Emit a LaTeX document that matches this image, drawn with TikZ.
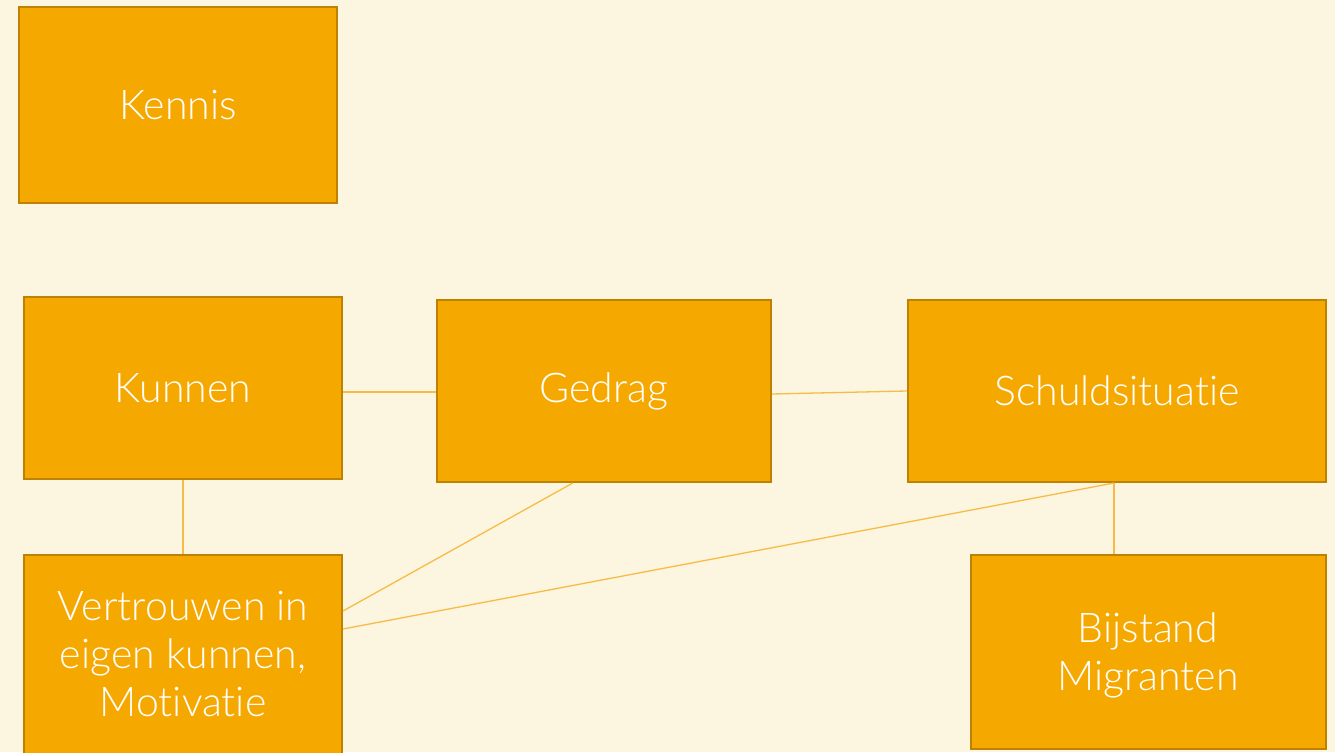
\documentclass[tikz,border=0pt]{standalone}
\usepackage{fontspec}
\setmainfont{Lato}[UprightFont = * Light, RawFeature = {-liga}]
\usetikzlibrary{calc}

\definecolor{bgcream}{HTML}{FCF5DF}
\definecolor{boxfill}{HTML}{F5A800}
\definecolor{boxline}{HTML}{BF8200}
\definecolor{linkline}{HTML}{F7BC48}

\tikzset{
  factor/.style = {draw = boxline, line width = 2pt, fill = boxfill, text = white,
    inner sep = 0pt, align = center,
    font = \fontsize{41pt}{48pt}\selectfont},
  link/.style = {draw = linkline, line width = 1.3pt}
}

\begin{document}
\begin{tikzpicture}[x = 1pt, y = -1pt]
	 \useasboundingbox (0, 0) rectangle (1335, 752);
	 \clip (0, 0) rectangle (1335, 752);
	 \fill[bgcream] (0, 0) rectangle (1335, 752);
	 
	 \node[factor, minimum width = 318pt, minimum height = 196pt] (kennis) at (178, 105) {Kennis};
	 
	 \node[factor, minimum width = 318pt, minimum height = 182pt] (kunnen) at (183, 388) {Kunnen};
	 \node[factor, minimum width = 334pt, minimum height = 182pt] (gedrag) at (604, 391) {Gedrag};
	 \node[factor, minimum width = 418pt, minimum height = 182pt] (schuld) at (1117, 391) {Schuldsituatie};
	 
	 \node[factor, minimum width = 318pt, minimum height = 210pt] (vertrouwen) at (183, 660) {};
	 \node[factor, draw = none, fill = none] (vertrouwentext) at (183, 654) {Vertrouwen in\\eigen kunnen,\\Motivatie};
	 \node[factor, minimum width = 355pt, minimum height = 194pt] (bijstand) at (1148, 652) {};
	 \node[factor, draw = none, fill = none] (bijstandtext) at (1148, 655) {Bijstand\\Migranten};
	 
	 \coordinate (kunnenside) at ($(kunnen.east) + (0, 4)$);
	 \coordinate (gedragfoot) at ($(gedrag.south west)!0.407!(gedrag.south east)$);
	 \coordinate (vertrouwenA) at ($(vertrouwen.north east) + (0, 57)$);
	 \coordinate (vertrouwenB) at ($(vertrouwen.north east) + (0, 75)$);
	 \coordinate (schuldfoot) at ($(schuld.south) + (-3, 0)$);
	 
	 \draw[link] (kunnenside) -- (kunnenside -| gedrag.west);
	 \draw[link] (gedrag.east) ++(0, 3) -- (schuld.west);
	 \draw[link] (kunnen.south) -- (vertrouwen.north);
	 \draw[link] (gedragfoot) -- (vertrouwenA);
	 \draw[link] (schuldfoot) -- (vertrouwenB);
	 \draw[link] (schuldfoot) -- (schuldfoot |- bijstand.north);
\end{tikzpicture}
\end{document}
